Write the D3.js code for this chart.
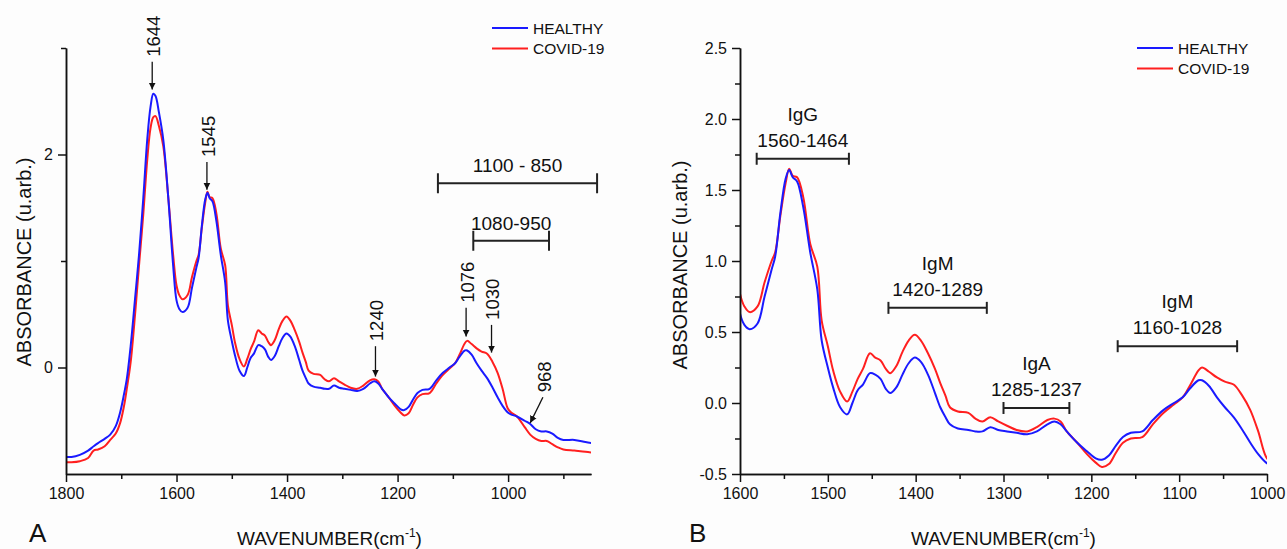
<!DOCTYPE html>
<html>
<head>
<meta charset="utf-8">
<script src="https://cdn.jsdelivr.net/npm/d3@7"></script>
<style>
  body { margin: 0; background: #fdfdfd; }
  svg { display: block; font-family: "Liberation Sans", Arial, sans-serif; }
  .axis path, .axis line { stroke: #111; stroke-width: 1.5px; }
  .axis text { font-size: 16px; fill: #111; }
</style>
</head>
<body>
<svg id="chart" width="1287" height="549"></svg>
<script>
// spectra (wavenumber in cm-1, absorbance u.arb.)
const wavenumber = [1800, 1790, 1775, 1760, 1750, 1742, 1730, 1720, 1710, 1702, 1695, 1690, 1683, 1675, 1668,
  1660, 1653, 1647, 1642, 1638, 1632, 1624, 1615, 1606, 1600, 1595, 1589, 1580, 1572, 1564, 1560, 1554, 1548,
  1544, 1540, 1535, 1528, 1520, 1512, 1507, 1500, 1494, 1486, 1478, 1472, 1466, 1460, 1452, 1446, 1440, 1434,
  1429, 1422, 1415, 1408, 1401, 1394, 1386, 1378, 1372, 1366, 1361, 1352, 1340, 1332, 1324, 1315, 1306, 1296,
  1285, 1273, 1262, 1250, 1242, 1235, 1228, 1216, 1205, 1195, 1188, 1180, 1172, 1164, 1155, 1142, 1130, 1118,
  1106, 1096, 1088, 1078, 1074, 1066, 1057, 1048, 1038, 1028, 1019, 1010, 1001, 995, 984, 970, 960, 950, 940,
  930, 920, 910, 900, 880, 860, 848];
const healthy = [-0.84, -0.84, -0.82, -0.78, -0.74, -0.71, -0.67, -0.63, -0.55, -0.42, -0.25, -0.11, 0.2, 0.65, 1.05,
  1.6, 2.14, 2.45, 2.57, 2.55, 2.4, 2.14, 1.6, 0.95, 0.63, 0.55, 0.52, 0.56, 0.75, 0.94, 1.03, 1.34, 1.58,
  1.64, 1.59, 1.56, 1.38, 1.06, 0.8, 0.44, 0.25, 0.11, -0.03, -0.08, 0.0, 0.09, 0.13, 0.21, 0.2, 0.17, 0.1,
  0.07, 0.11, 0.2, 0.28, 0.32, 0.29, 0.2, 0.07, -0.03, -0.1, -0.15, -0.18, -0.19, -0.2, -0.2, -0.17, -0.19, -0.2,
  -0.21, -0.22, -0.2, -0.15, -0.13, -0.15, -0.2, -0.28, -0.34, -0.39, -0.4, -0.37, -0.3, -0.24, -0.21, -0.2, -0.12, -0.05,
  0.0, 0.04, 0.1, 0.16, 0.16, 0.12, 0.04, -0.03, -0.1, -0.19, -0.28, -0.36, -0.42, -0.44, -0.46, -0.5, -0.53, -0.58, -0.6,
  -0.6, -0.62, -0.66, -0.68, -0.68, -0.7, -0.71];
const covid = [-0.89, -0.89, -0.88, -0.85, -0.78, -0.77, -0.74, -0.68, -0.62, -0.52, -0.36, -0.2, 0.05, 0.5, 0.95,
  1.45, 1.95, 2.25, 2.35, 2.36, 2.27, 2.08, 1.6, 1.05, 0.77, 0.68, 0.64, 0.68, 0.85, 1.0, 1.06, 1.32, 1.55,
  1.65, 1.6, 1.59, 1.45, 1.12, 0.96, 0.58, 0.4, 0.23, 0.08, 0.01, 0.08, 0.17, 0.24, 0.35, 0.32, 0.3, 0.24,
  0.21, 0.26, 0.36, 0.44, 0.48, 0.44, 0.35, 0.24, 0.14, 0.05, -0.03, -0.06, -0.07, -0.11, -0.13, -0.1, -0.13, -0.16,
  -0.19, -0.2, -0.17, -0.12, -0.11, -0.13, -0.2, -0.28, -0.36, -0.42, -0.45, -0.43, -0.35, -0.28, -0.25, -0.24, -0.15, -0.07,
  -0.01, 0.04, 0.12, 0.23, 0.25, 0.22, 0.18, 0.15, 0.13, 0.05, -0.05, -0.2, -0.38, -0.42, -0.46, -0.56, -0.63, -0.67, -0.69,
  -0.69, -0.72, -0.75, -0.77, -0.78, -0.79, -0.8];

const seriesNames = ["HEALTHY", "COVID-19"];
const seriesColors = ["#1a1aff", "#ff1f1f"];

// tick values
const xTicksA = [1800, 1600, 1400, 1200, 1000];
const xMinorA = [1700, 1500, 1300, 1100, 900];
const yTicksA = [0, 2];
const yMinorA = [1, 3];
const xTicksB = [1600, 1500, 1400, 1300, 1200, 1100, 1000];
const xMinorB = [1550, 1450, 1350, 1250, 1150, 1050];
const yTicksB = [-0.5, 0, 0.5, 1.0, 1.5, 2.0, 2.5];
const yMinorB = [-0.25, 0.25, 0.75, 1.25, 1.75, 2.25];

// panel A peak arrows: label, tail (w, v), tip (w, v)
const peakLabels = ["1644", "1545", "1240", "1076", "1030", "968"];
const peakTail = [[1644, 2.87], [1545, 1.93], [1240, 0.2], [1076, 0.56], [1030, 0.4], [937, -0.28]];
const peakTip = [[1644, 2.61], [1545, 1.67], [1240, -0.085], [1076, 0.29], [1030, 0.14], [960, -0.52]];

// panel A ranges: label, from, to, level
const rangeLabelsA = ["1100 - 850", "1080-950"];
const rangeA = [[1127, 839, 1.73], [1063, 926, 1.19]];

// panel B immunoglobulin ranges
const rangeNamesB = ["IgG", "IgM", "IgA", "IgM"];
const rangeLabelsB = ["1560-1464", "1420-1289", "1285-1237", "1160-1028"];
const rangeB = [[1581, 1476, 1.72], [1431, 1319, 0.67], [1300, 1225, -0.035], [1170, 1034, 0.40]];

const data = wavenumber.map((w, i) => ({ w: w, v: [healthy[i], covid[i]] }));

const svg = d3.select("#chart");

svg.append("defs").append("marker")
  .attr("id", "arrow")
  .attr("viewBox", "0 0 10 10")
  .attr("refX", 10).attr("refY", 5)
  .attr("markerWidth", 7).attr("markerHeight", 9)
  .attr("markerUnits", "userSpaceOnUse")
  .attr("orient", "auto")
  .append("path").attr("d", "M0,0 L10,5 L0,10 z").attr("fill", "#111");

function drawPanel(opt) {
  const x = d3.scaleLinear().domain(opt.xDomain).range(opt.xRange);
  const y = d3.scaleLinear().domain(opt.yDomain).range([474, 48]);
  const g = svg.append("g");

  const clipId = "clip" + opt.letter;
  svg.select("defs").append("clipPath").attr("id", clipId)
    .append("rect").attr("x", opt.xRange[0]).attr("y", 40)
    .attr("width", opt.xRange[1] - opt.xRange[0]).attr("height", 440);

  // curves, red first so blue sits on top
  [1, 0].forEach(s => {
    g.append("path")
      .datum(data)
      .attr("clip-path", `url(#${clipId})`)
      .attr("fill", "none")
      .attr("stroke", seriesColors[s])
      .attr("stroke-width", 2)
      .attr("d", d3.line().curve(d3.curveCatmullRom.alpha(0.5))
        .x(d => x(d.w)).y(d => y(d.v[s])));
  });

  // axes
  g.append("g").attr("class", "axis").attr("transform", "translate(0,474)")
    .call(d3.axisBottom(x).tickValues(opt.xTicks).tickSize(8).tickSizeOuter(0).tickPadding(6).tickFormat(d3.format("d")));
  g.append("g").attr("class", "axis").attr("transform", "translate(0,474)")
    .call(d3.axisBottom(x).tickValues(opt.xMinor).tickSize(5).tickSizeOuter(0).tickFormat(""));
  g.append("g").attr("class", "axis").attr("transform", `translate(${opt.xRange[0]},0)`)
    .call(d3.axisLeft(y).tickValues(opt.yTicks).tickSize(8).tickSizeOuter(0).tickPadding(5).tickFormat(opt.yFormat));
  g.append("g").attr("class", "axis").attr("transform", `translate(${opt.xRange[0]},0)`)
    .call(d3.axisLeft(y).tickValues(opt.yMinor).tickSize(5).tickSizeOuter(0).tickFormat(""));
  g.selectAll(".axis .domain").attr("stroke-width", 1.5);

  // axis titles
  const xt = g.append("text")
    .attr("x", (opt.xRange[0] + opt.xRange[1]) / 2 + opt.titleShift)
    .attr("y", 545).attr("text-anchor", "middle")
    .style("font-size", "19px").attr("fill", "#111")
    .text("WAVENUMBER(cm");
  xt.append("tspan").attr("dy", -8).style("font-size", "12px").text("-1");
  xt.append("tspan").attr("dy", 8).text(")");

  g.append("text")
    .attr("transform", `translate(${opt.yTitleX},${opt.yTitleY}) rotate(-90)`)
    .attr("text-anchor", "middle")
    .style("font-size", "20px").attr("fill", "#111")
    .text("ABSORBANCE (u.arb.)");

  g.append("text").attr("x", opt.letterX).attr("y", 542)
    .style("font-size", "26px").attr("fill", "#111").text(opt.letter);

  // legend
  seriesNames.forEach((name, i) => {
    const ly = opt.legendY + i * 20.5;
    g.append("line").attr("x1", opt.legendX).attr("x2", opt.legendX + 36)
      .attr("y1", ly).attr("y2", ly)
      .attr("stroke", seriesColors[i]).attr("stroke-width", 2);
    g.append("text").attr("x", opt.legendX + 41).attr("y", ly + 5.5)
      .style("font-size", "15.5px").attr("fill", "#111").text(name);
  });

  return { g, x, y };
}

// ---- panel A ----
const A = drawPanel({
  letter: "A", letterX: 29,
  xDomain: [1800, 850], xRange: [66, 591],
  yDomain: [-1, 3],
  xTicks: xTicksA, xMinor: xMinorA, yTicks: yTicksA, yMinor: yMinorA,
  yFormat: d3.format("d"),
  titleShift: 1, yTitleX: 31, yTitleY: 262,
  legendX: 492, legendY: 28
});

peakLabels.forEach((lab, i) => {
  const x1 = A.x(peakTail[i][0]), y1 = A.y(peakTail[i][1]);
  const x2 = A.x(peakTip[i][0]), y2 = A.y(peakTip[i][1]);
  A.g.append("line").attr("x1", x1).attr("y1", y1).attr("x2", x2).attr("y2", y2)
    .attr("stroke", "#111").attr("stroke-width", 1.3).attr("marker-end", "url(#arrow)");
  A.g.append("text")
    .attr("transform", `translate(${x1 + 1},${y1 - 5}) rotate(-90)`)
    .attr("dy", "0.36em")
    .style("font-size", "18.5px").attr("fill", "#111").text(lab);
});

function rangeBar(P, from, to, lev, cap) {
  const yb = P.y(lev);
  P.g.append("line").attr("x1", P.x(from)).attr("x2", P.x(to)).attr("y1", yb).attr("y2", yb)
    .attr("stroke", "#222").attr("stroke-width", 2);
  [from, to].forEach(w => P.g.append("line").attr("x1", P.x(w)).attr("x2", P.x(w))
    .attr("y1", yb - cap).attr("y2", yb + cap).attr("stroke", "#222").attr("stroke-width", 2));
  return yb;
}

rangeLabelsA.forEach((lab, i) => {
  const [f, t, lev] = rangeA[i];
  const yb = rangeBar(A, f, t, lev, 10);
  A.g.append("text").attr("x", (A.x(f) + A.x(t)) / 2).attr("y", yb - 11)
    .attr("text-anchor", "middle").style("font-size", "19px").attr("fill", "#111").text(lab);
});

// ---- panel B ----
const B = drawPanel({
  letter: "B", letterX: 689,
  xDomain: [1600, 1000], xRange: [740, 1267],
  yDomain: [-0.5, 2.5],
  xTicks: xTicksB, xMinor: xMinorB, yTicks: yTicksB, yMinor: yMinorB,
  yFormat: d => d.toFixed(1),
  titleShift: 0, yTitleX: 687, yTitleY: 265,
  legendX: 1137, legendY: 48
});

rangeNamesB.forEach((name, i) => {
  const [f, t, lev] = rangeB[i];
  const yb = rangeBar(B, f, t, lev, 6);
  const cx = (B.x(f) + B.x(t)) / 2;
  B.g.append("text").attr("x", cx).attr("y", yb - 12)
    .attr("text-anchor", "middle").style("font-size", "19px").attr("fill", "#111").text(rangeLabelsB[i]);
  B.g.append("text").attr("x", cx).attr("y", yb - 38)
    .attr("text-anchor", "middle").style("font-size", "19px").attr("fill", "#111").text(name);
});
</script>
</body>
</html>
